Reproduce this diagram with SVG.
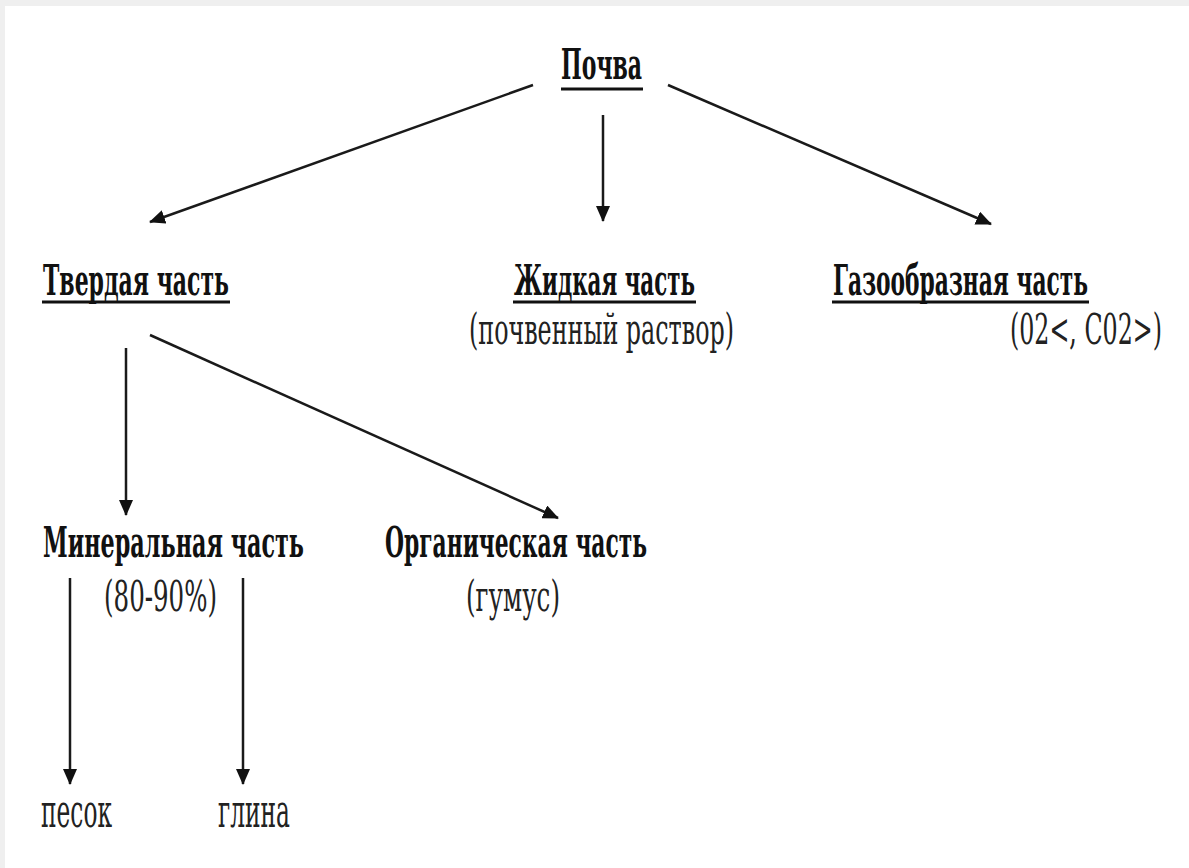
<svg xmlns="http://www.w3.org/2000/svg" width="1189" height="868" viewBox="0 0 1189 868">
<style>
.h{font-family:"DejaVu Serif","Liberation Serif",serif;font-weight:bold;font-size:43px;fill:#111}
.s{font-family:"DejaVu Serif","Liberation Serif",serif;font-weight:normal;font-size:42px;fill:#222}
.l{font-family:"DejaVu Serif","Liberation Serif",serif;font-weight:normal;font-size:46px;fill:#222}
.u{stroke:#111;stroke-width:3}
.c{stroke:#1a1a1a;stroke-width:2.5;fill:none;marker-end:url(#ah)}
</style>
<defs>
<marker id="ah" markerUnits="userSpaceOnUse" markerWidth="16" markerHeight="14" refX="15" refY="7" orient="auto">
<path d="M0,0 L16,7 L0,14 Z" fill="#111"/>
</marker>
</defs>
<rect width="1189" height="868" fill="#ffffff"/>
<rect x="0" y="0" width="1189" height="6" fill="#efefef"/>
<rect x="0" y="0" width="5" height="868" fill="#efefef"/>
<g id="connectors">
<line class="c" x1="533" y1="85" x2="150" y2="222"/>
<line class="c" x1="603" y1="115" x2="603" y2="221"/>
<line class="c" x1="668" y1="85" x2="991" y2="224"/>
<line class="c" x1="126" y1="348" x2="126" y2="515"/>
<line class="c" x1="150" y1="335" x2="558" y2="518"/>
<line class="c" x1="70" y1="578" x2="70" y2="784"/>
<line class="c" x1="243" y1="578" x2="243" y2="784"/>
</g>
<g id="pochva">
<text class="h" transform="translate(561,79) scale(0.6,1)" textLength="135" lengthAdjust="spacingAndGlyphs">Почва</text>
<line class="u" x1="561" y1="89" x2="643" y2="89"/>
</g>
<g id="tverdaya">
<text class="h" transform="translate(43,295) scale(0.6,1)" textLength="310" lengthAdjust="spacingAndGlyphs">Твердая часть</text>
<line class="u" x1="42" y1="302" x2="230" y2="302"/>
</g>
<g id="zhidkaya">
<text class="h" transform="translate(514,295) scale(0.6,1)" textLength="301.7" lengthAdjust="spacingAndGlyphs">Жидкая часть</text>
<line class="u" x1="513" y1="302" x2="696" y2="302"/>
<text class="s" transform="translate(469,344) scale(0.6,1)" textLength="441.7" lengthAdjust="spacingAndGlyphs">(почвенный  раствор)</text>
</g>
<g id="gazoobraznaya">
<text class="h" transform="translate(833,295) scale(0.6,1)" textLength="425" lengthAdjust="spacingAndGlyphs">Газообразная часть</text>
<line class="u" x1="832" y1="302" x2="1089" y2="302"/>
<text class="s" transform="translate(1010,344) scale(0.6,1)" textLength="253.3" lengthAdjust="spacingAndGlyphs">(02&lt;, C02&gt;)</text>
</g>
<g id="mineralnaya">
<text class="h" transform="translate(43,557) scale(0.6,1)" textLength="435" lengthAdjust="spacingAndGlyphs">Минеральная часть</text>
<text class="s" transform="translate(104,611) scale(0.6,1)" textLength="188.3" lengthAdjust="spacingAndGlyphs">(80-90%)</text>
</g>
<g id="organicheskaya">
<text class="h" transform="translate(385,557) scale(0.6,1)" textLength="436.7" lengthAdjust="spacingAndGlyphs">Органическая часть</text>
<text class="s" transform="translate(466,611) scale(0.6,1)" textLength="156.7" lengthAdjust="spacingAndGlyphs">(гумус)</text>
</g>
<g id="pesok">
<text class="l" transform="translate(41,827) scale(0.6,1)" textLength="118.3" lengthAdjust="spacingAndGlyphs">песок</text>
</g>
<g id="glina">
<text class="l" transform="translate(218,827) scale(0.6,1)" textLength="120" lengthAdjust="spacingAndGlyphs">глина</text>
</g>
</svg>
